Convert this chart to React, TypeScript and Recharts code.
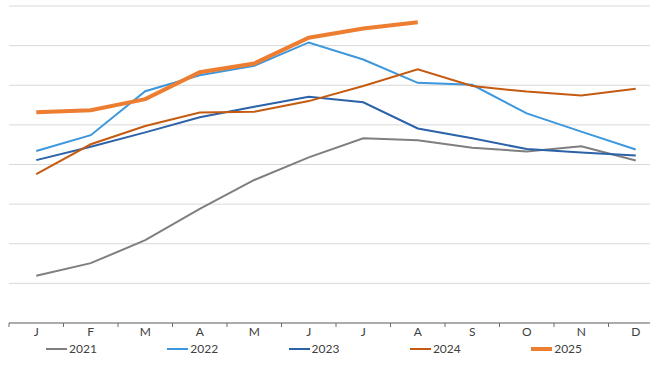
import { CartesianGrid, Legend, Line, LineChart, XAxis, YAxis } from 'recharts';

const months = ['J', 'F', 'M', 'A', 'M', 'J', 'J', 'A', 'S', 'O', 'N', 'D'];
const years = ['2021', '2022', '2023', '2024', '2025'];

const v2021 = [1.19, 1.51, 2.09, 2.88, 3.61, 4.18, 4.66, 4.61, 4.42, 4.33, 4.46, 4.1];
const v2022 = [4.34, 4.74, 5.85, 6.25, 6.49, 7.08, 6.65, 6.06, 6.01, 5.29, 4.83, 4.38];
const v2023 = [4.11, 4.45, 4.81, 5.19, 5.46, 5.71, 5.57, 4.91, 4.66, 4.39, 4.3, 4.23];
const v2024 = [3.76, 4.51, 4.97, 5.31, 5.33, 5.6, 5.98, 6.4, 5.98, 5.84, 5.74, 5.91];
const v2025 = [5.32, 5.37, 5.65, 6.33, 6.55, 7.2, 7.43, 7.59];

const yTicks = [0, 1, 2, 3, 4, 5, 6, 7, 8];

const colors: Record<string, string> = {
  '2021': '#7f7f7f',
  '2022': '#3d97dc',
  '2023': '#2c62a8',
  '2024': '#c55a11',
  '2025': '#ed7d31',
};
const widths: Record<string, number> = { '2021': 2, '2022': 2, '2023': 2, '2024': 2, '2025': 4 };

const data = months.map((m, i) => ({
  month: m,
  '2021': v2021[i],
  '2022': v2022[i],
  '2023': v2023[i],
  '2024': v2024[i],
  '2025': v2025[i] ?? null,
}));

const W = 680;
const H = 365;
const margin = { top: 6, right: 17, left: 9, bottom: 0 };
const band = (W - margin.left - margin.right) / months.length;

function MonthTick(props: any) {
  const { x, y, payload, index } = props;
  return (
    <g>
      <line x1={x - band / 2} y1={y} x2={x - band / 2} y2={y + 4} stroke="#6d6d6d" />
      {index === months.length - 1 && (
        <line x1={x + band / 2} y1={y} x2={x + band / 2} y2={y + 4} stroke="#6d6d6d" />
      )}
      <text x={x} y={y + 13} textAnchor="middle" fontSize={12} fill="#404040">
        {payload.value}
      </text>
    </g>
  );
}

function YearLegend() {
  return (
    <div style={{ position: 'relative', height: 22, width: 650 }}>
      {years.map((y, i) => (
        <div
          key={y}
          style={{
            position: 'absolute',
            left: 46 + i * 121.3,
            top: 0,
            height: 12,
            display: 'flex',
            alignItems: 'center',
            fontSize: 12,
            lineHeight: '12px',
            color: '#404040',
          }}
        >
          <span style={{ display: 'inline-block', width: 21, height: widths[y], background: colors[y], marginRight: 2 }} />
          {y}
        </div>
      ))}
    </div>
  );
}

export default function App() {
  return (
    <div
      style={{
        position: 'absolute',
        left: 0,
        top: 0,
        width: 650,
        height: 365,
        overflow: 'hidden',
        background: '#fff',
        fontFamily: 'Lato, "Open Sans", sans-serif',
      }}
    >
      <LineChart width={W} height={H} data={data} margin={margin}>
        <CartesianGrid vertical={false} stroke="#d9d9d9" />
        <XAxis
          dataKey="month"
          padding={{ left: band / 2, right: band / 2 }}
          height={20}
          tickLine={false}
          tickSize={0}
          tickMargin={0}
          interval={0}
          stroke="#6d6d6d"
          tick={<MonthTick />}
        />
        <YAxis hide domain={[0, 8]} ticks={yTicks} width={0} />
        <Legend
          verticalAlign="bottom"
          content={<YearLegend />}
          wrapperStyle={{ left: 0, width: 650 }}
        />
        {years.map((y) => (
          <Line
            key={y}
            type="linear"
            dataKey={y}
            stroke={colors[y]}
            strokeWidth={widths[y]}
            dot={false}
            activeDot={false}
            isAnimationActive={false}
          />
        ))}
      </LineChart>
    </div>
  );
}
